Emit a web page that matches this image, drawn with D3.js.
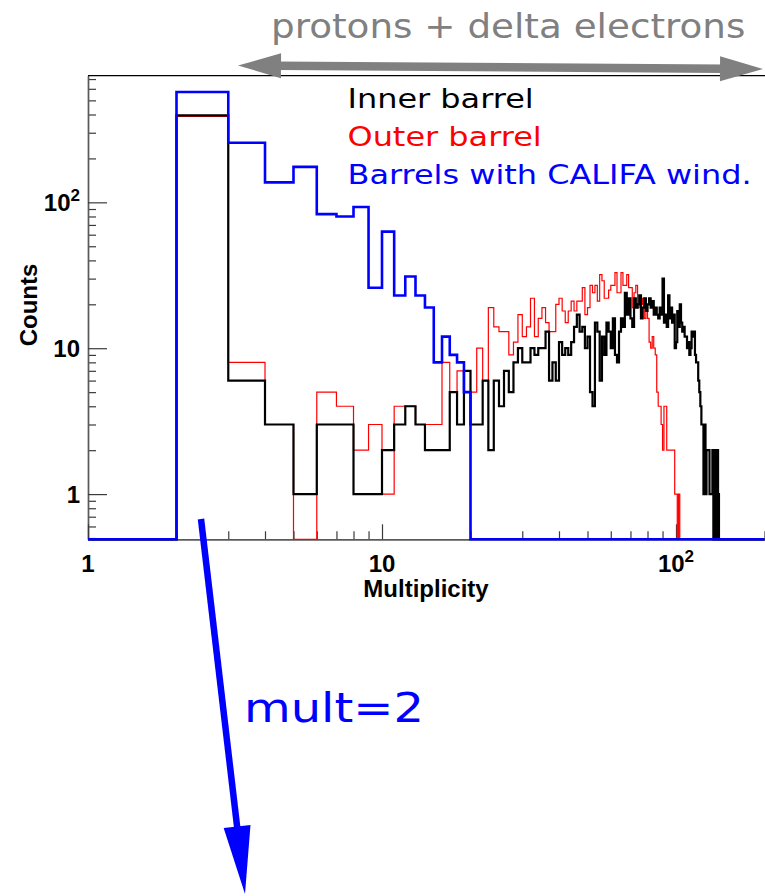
<!DOCTYPE html>
<html>
<head>
<meta charset="utf-8">
<script src="https://cdn.jsdelivr.net/npm/d3@7"></script>
<style>
  html, body { margin: 0; padding: 0; background: #fff; }
  svg { display: block; }
</style>
</head>
<body>
<svg id="chart" width="765" height="896"></svg>
<script>
// Multiplicity histograms: one entry per integer bin, starting at bin [1,2)
const firstBin = 1;
const lastEdge = 200;

const innerCounts = [
  0, 395, 6, 3, 1, 3, 3, 1, 1, 2,
  3, 4, 3, 2, 2, 2, 5, 3, 7, 3,
  3, 6, 2, 6, 4, 7, 5, 8, 10, 8,
  8, 10, 9, 10, 10, 13, 6, 8, 6, 11,
  9, 10, 9, 11, 14, 17, 13, 14, 10, 12,
  5, 4, 15, 13, 6, 12, 9, 15, 13, 10,
  16, 9, 8, 13, 16, 14, 24, 17, 22, 16,
  14, 22, 19, 20, 23, 16, 19, 22, 18, 20,
  22, 19, 21, 17, 19, 17, 16, 19, 17, 30,
  15, 17, 14, 23, 16, 19, 15, 17, 10, 11,
  18, 14, 20, 15, 13, 14, 12, 12, 10, 11,
  9, 10, 13, 12, 13, 9, 8, 8, 6, 5,
  4, 3, 3, 1, 3, 1, 2, 2, 2, 1,
  1, 1, 2, 0, 2, 1, 0, 2, 1
];

const outerCounts = [
  0, 388, 8, 3, 0, 5, 4, 2, 3, 1,
  4, 4, 3, 3, 3, 8, 5, 7, 5, 5,
  10, 6, 19, 14, 13, 13, 9, 11, 17, 12,
  14, 22, 12, 16, 19, 15, 13, 13, 20, 22,
  18, 15, 18, 21, 18, 21, 21, 26, 17, 19,
  27, 24, 27, 21, 32, 29, 22, 22, 25, 27,
  27, 33, 24, 24, 33, 27, 27, 32, 26, 26,
  19, 24, 27, 19, 22, 20, 22, 16, 19, 16,
  11, 10, 12, 10, 9, 5, 4, 4, 3, 2,
  4, 4, 2, 2, 2, 2, 2, 2, 1, 1,
  0, 1, 0
];

const califaCounts = [
  0, 570, 256, 137, 175, 83, 80, 93, 26, 63,
  23, 31, 23, 19, 8, 12, 9, 8, 5
];

const seriesNames = ["Inner barrel", "Outer barrel", "Barrels with CALIFA wind."];
const seriesColors = ["#000000", "#ff0000", "#0000ff"];

const xMajor = [1, 10, 100];
const yMajor = [1, 10, 100];
const xLabel = "Multiplicity";
const yLabel = "Counts";
const bandText = "protons + delta electrons";
const peakText = "mult=2";

// ---- layout ----
const svg = d3.select("#chart");
const frameL = 88, frameR = 764.5, frameT = 75.7, frameB = 539.3;
const yMin = 0.49, yMax = 738;

const x = d3.scaleLog().domain([1, lastEdge]).range([frameL, frameR]);
const y = d3.scaleLog().domain([yMin, yMax]).range([frameB, frameT]);

// minor tick values for the log axes
function logTicks(lo, hi) {
  const out = [];
  for (let d = 0.1; d <= hi; d *= 10)
    for (let k = 1; k < 10; k++) {
      const v = +(k * d).toPrecision(6);
      if (v >= lo && v <= hi) out.push(v);
    }
  return out;
}
const xMinor = logTicks(1, lastEdge).filter(v => !xMajor.includes(v));
const yMinor = logTicks(yMin, yMax).filter(v => !yMajor.includes(v));

// ---- axes (ticks drawn inside the frame) ----
const axisColor = "#3a3a3a";
function styleAxis(g) {
  g.selectAll("path.domain").attr("stroke", "#5a5a5a").attr("stroke-width", 1.4);
  g.selectAll(".tick line").attr("stroke", axisColor).attr("stroke-width", 1.2);
  g.selectAll(".tick text").remove();
}

svg.append("g").attr("transform", `translate(${frameL},0)`)
  .call(d3.axisRight(y).tickValues(yMinor).tickSize(8).tickSizeOuter(0).tickFormat(""))
  .call(styleAxis);
svg.append("g").attr("transform", `translate(${frameL},0)`)
  .call(d3.axisRight(y).tickValues(yMajor).tickSize(19).tickSizeOuter(0).tickFormat(""))
  .call(styleAxis);
svg.append("g").attr("transform", `translate(0,${frameB})`)
  .call(d3.axisTop(x).tickValues(xMinor).tickSize(8).tickSizeOuter(0).tickFormat(""))
  .call(styleAxis);
svg.append("g").attr("transform", `translate(0,${frameB})`)
  .call(d3.axisTop(x).tickValues(xMajor).tickSize(15).tickSizeOuter(0).tickFormat(""))
  .call(styleAxis);

// top frame
svg.append("line")
  .attr("x1", frameL).attr("x2", 765).attr("y1", frameT).attr("y2", frameT)
  .attr("stroke", "#000").attr("stroke-width", 1.3);

// ---- tick labels: 1, 10, 10^2 ----
const labelFont = "'Liberation Sans', Arial, Helvetica, sans-serif";
function powLabel(sel, v) {
  const e = Math.round(Math.log10(v));
  if (e === 0) sel.text("1");
  else if (e === 1) sel.text("10");
  else {
    sel.append("tspan").text("10");
    sel.append("tspan").attr("dy", -10).attr("font-size", 17).text(String(e));
  }
}
yMajor.forEach(v => {
  svg.append("text")
    .attr("x", 80).attr("y", y(v) + 9)
    .attr("text-anchor", "end")
    .attr("font-family", labelFont).attr("font-weight", "bold").attr("font-size", 24)
    .call(powLabel, v);
});
xMajor.forEach(v => {
  svg.append("text")
    .attr("x", x(v)).attr("y", 572)
    .attr("text-anchor", "middle")
    .attr("font-family", labelFont).attr("font-weight", "bold").attr("font-size", 24)
    .call(powLabel, v);
});

svg.append("text")
  .attr("x", 426).attr("y", 597)
  .attr("text-anchor", "middle")
  .attr("font-family", labelFont).attr("font-weight", "bold").attr("font-size", 24)
  .text(xLabel);
svg.append("text")
  .attr("transform", "translate(37,305) rotate(-90)")
  .attr("text-anchor", "middle")
  .attr("font-family", labelFont).attr("font-weight", "bold").attr("font-size", 24)
  .text(yLabel);

// ---- histograms as step lines ----
function stepData(counts) {
  const pts = [];
  for (let i = 0; i < lastEdge - firstBin; i++) {
    const c = i < counts.length ? counts[i] : 0;
    pts.push([firstBin + i, c]);
  }
  pts.push([lastEdge, 0]);
  return pts;
}
const step = d3.line()
  .x(d => x(d[0]))
  .y(d => y(Math.max(d[1], yMin)))
  .curve(d3.curveStepAfter);

const plot = svg.append("g");
plot.append("path").datum(stepData(outerCounts))
  .attr("d", step).attr("fill", "none")
  .attr("stroke", seriesColors[1]).attr("stroke-width", 1.2);
plot.append("path").datum(stepData(innerCounts))
  .attr("d", step).attr("fill", "none")
  .attr("stroke", seriesColors[0]).attr("stroke-width", 2.2);
plot.append("path").datum(stepData(califaCounts))
  .attr("d", step).attr("fill", "none")
  .attr("stroke", seriesColors[2]).attr("stroke-width", 2.6);

// ---- legend & annotations (DejaVu Sans, widened) ----
const annFont = "'DejaVu Sans', sans-serif";
function wideText(px, py, size, sx, color, str) {
  svg.append("text")
    .attr("transform", `translate(${px},${py}) scale(${sx},1)`)
    .attr("font-family", annFont).attr("font-size", size)
    .attr("fill", color).text(str);
}
const legendY = [107.7, 145.5, 184];
seriesNames.forEach((name, i) => wideText(347.5, legendY[i], 27.3, 1.17, seriesColors[i], name));

wideText(271, 38, 33, 1.13, "#808080", bandText);
wideText(244, 722, 41, 1.17, "#0000ff", peakText);

// arrow helper: head polygon at the tip, shaft up to the head base
function arrow(p0, p1, width, headLen, headHalf, color, both) {
  const dx = p1[0] - p0[0], dy = p1[1] - p0[1];
  const L = Math.hypot(dx, dy), ux = dx / L, uy = dy / L, nx = -uy, ny = ux;
  const head = (tip, sx, sy) => {
    const bx = tip[0] - sx * headLen, by = tip[1] - sy * headLen;
    return [[tip[0], tip[1]], [bx + nx * headHalf, by + ny * headHalf], [bx - nx * headHalf, by - ny * headHalf]];
  };
  const a = both ? [p0[0] + ux * headLen * 0.9, p0[1] + uy * headLen * 0.9] : p0;
  const b = [p1[0] - ux * headLen * 0.9, p1[1] - uy * headLen * 0.9];
  svg.append("line").attr("x1", a[0]).attr("y1", a[1]).attr("x2", b[0]).attr("y2", b[1])
    .attr("stroke", color).attr("stroke-width", width);
  svg.append("polygon").attr("points", head(p1, ux, uy).join(" ")).attr("fill", color);
  if (both) svg.append("polygon").attr("points", head(p0, -ux, -uy).join(" ")).attr("fill", color);
}
arrow([238, 65.5], [763, 69], 8.5, 43, 12.5, "#808080", true);
arrow([201, 519], [245, 894], 6.5, 68, 13.5, "#0000ff", false);
</script>
</body>
</html>
